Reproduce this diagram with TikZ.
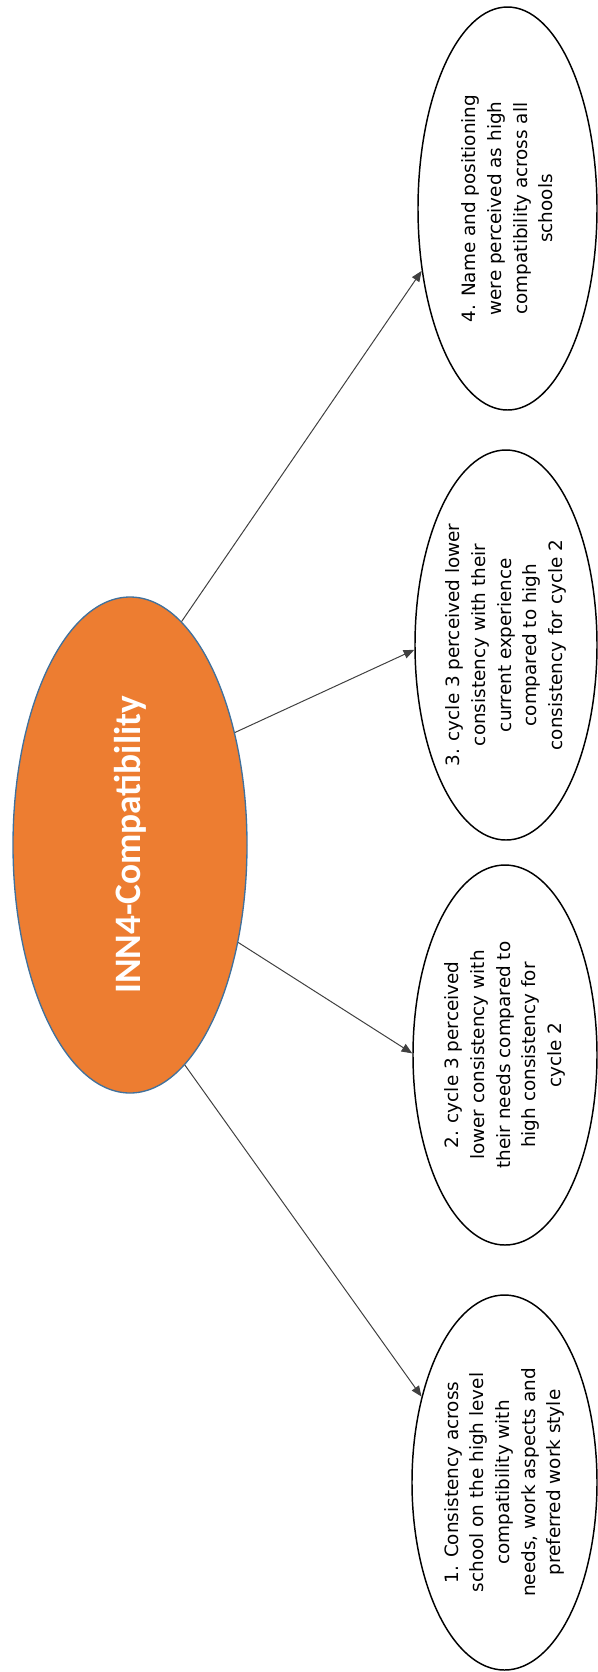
\documentclass[tikz,border=0pt]{standalone}
\usepackage{fontspec}
\setmainfont{Carlito}
\newfontfamily\bodyfont{DejaVu Sans}
\usetikzlibrary{shapes.geometric,arrows.meta}
\definecolor{hubfill}{HTML}{ED7D31}
\definecolor{hubline}{HTML}{41719C}
\definecolor{linkgray}{HTML}{404040}
\begin{document}
\begin{tikzpicture}[x=0.75pt,y=-0.75pt,
  hub/.style={ellipse, draw=hubline, fill=hubfill, line width=1pt, inner sep=0pt},
  leaf/.style={ellipse, draw=black, line width=1.1pt, inner sep=0pt},
  leaftext/.style={rotate=90, align=center, font=\bodyfont\fontsize{13.8}{19.2}\selectfont},
  hubtext/.style={rotate=90, text=white, font=\fontsize{28}{32}\selectfont\bfseries},
  link/.style={draw=linkgray, line width=0.75pt, -{Triangle[length=8pt,width=6.5pt]}}]
\useasboundingbox (0,0) rectangle (597,1672);

% central theme
\node[hub, minimum width=175.5pt, minimum height=372pt] (hub) at (130,845) {};
\node[hubtext] at (hub) {INN4-Compatibility};

% findings
\node[leaf, minimum width=134.25pt, minimum height=302.25pt] (n4) at (507.5,208.5) {};
\node[leaf, minimum width=136.5pt, minimum height=292.5pt] (n3) at (506,645) {};
\node[leaf, minimum width=138pt, minimum height=285pt] (n2) at (505,1055) {};
\node[leaf, minimum width=138.75pt, minimum height=281.25pt] (n1) at (504.5,1482.5) {};

\node[leaftext] (t4) at (n4) {4. Name and positioning\\were  perceived as high\\compatibility across all\\schools};
\node[leaftext] (t3) at (n3) {3. cycle 3 perceived lower\\consistency with their\\current experience\\compared to high\\consistency for cycle 2};
\node[leaftext] (t2) at (n2) {2. cycle 3 perceived\\lower consistency with\\their needs compared to\\high consistency for\\cycle 2};
\node[leaftext] (t1) at (n1) {1. Consistency across\\school on the high level\\compatibility with\\needs, work aspects and\\preferred work style};

% connectors
\draw[link] (hub.77) -- (n4.216);
\draw[link] (hub.47) -- (n3.183);
\draw[link] (hub.-42) -- (n2.179);
\draw[link] (hub.-76) -- (n1.134);
\end{tikzpicture}
\end{document}
